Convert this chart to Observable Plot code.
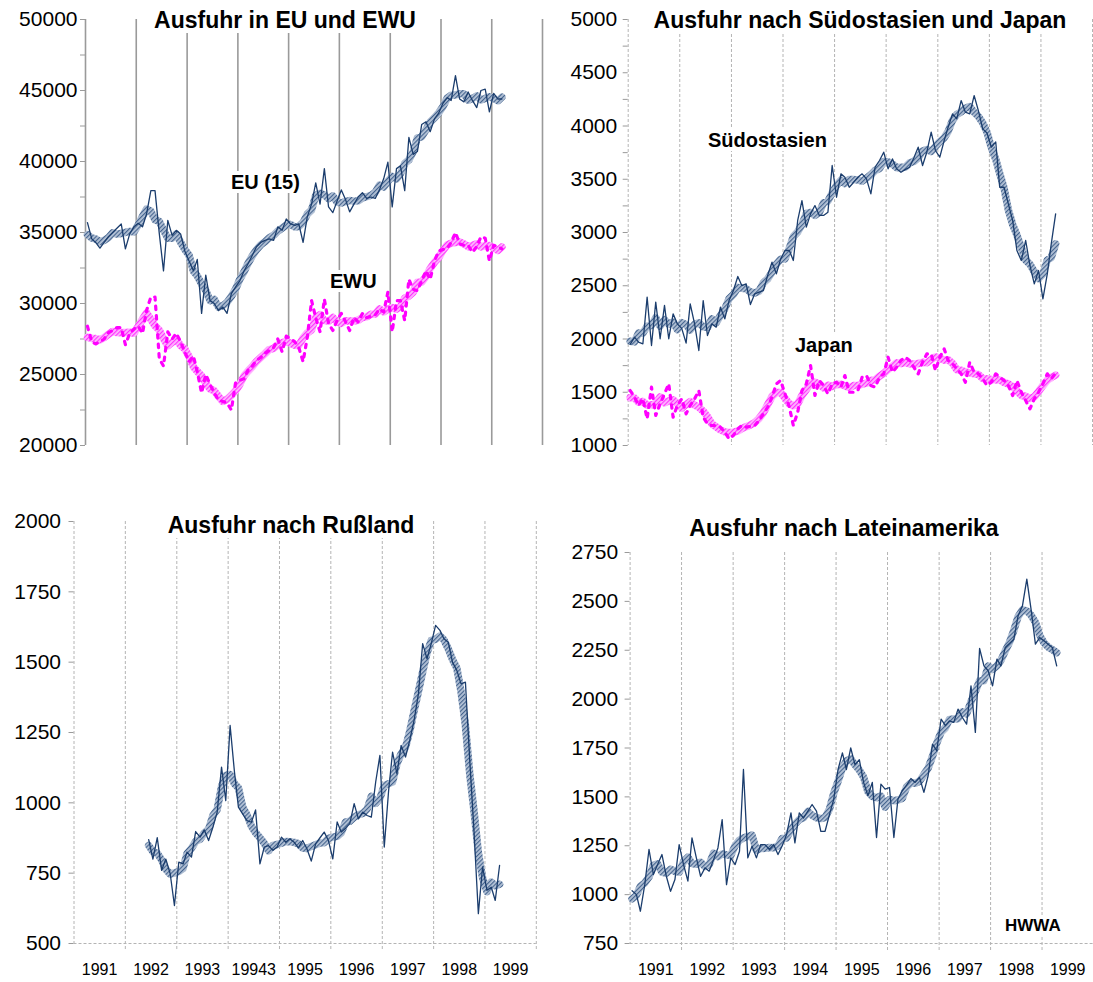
<!DOCTYPE html>
<html><head><meta charset="utf-8">
<script src="https://cdn.jsdelivr.net/npm/d3@7"></script>
<script src="https://cdn.jsdelivr.net/npm/@observablehq/plot@0.6"></script>
<style>
body{margin:0;background:#fff;font-family:Arial,"Liberation Sans",sans-serif;}
#root{position:relative;width:1093px;height:982px;overflow:hidden;background:#fff;}
.panel{position:absolute;}
.title{position:absolute;font-weight:bold;font-size:23px;background:#fff;white-space:nowrap;transform:translateX(-50%);line-height:1;padding:1px 3px;color:#000;}
.lab{position:absolute;font-weight:bold;font-size:20px;background:#fff;white-space:nowrap;line-height:1;padding:1px 2px;color:#000;}
</style></head>
<body>
<svg width="0" height="0" style="position:absolute">
<defs>
<pattern id="hatchBlue" patternUnits="userSpaceOnUse" width="3" height="3" patternTransform="rotate(45)">
<rect width="3" height="3" fill="#b6c4d8"/><line x1="0.6" y1="0" x2="0.6" y2="3" stroke="#3f5f8a" stroke-width="1.1"/>
</pattern>
<pattern id="hatchPink" patternUnits="userSpaceOnUse" width="3" height="3" patternTransform="rotate(45)">
<rect width="3" height="3" fill="#ffb6ff"/><line x1="0.6" y1="0" x2="0.6" y2="3" stroke="#ff2cff" stroke-width="1.1"/>
</pattern>
</defs></svg>
<div id="root"></div>
<script>
// ---------------- data (monthly, 1991-01 onwards) ----------------
const euValues = [35700,34550,34300,33900,34300,34700,35000,35300,35600,33850,34900,35400,35650,35400,36300,37950,37950,34900,32300,35850,34800,35150,34900,33700,33000,32300,33100,29300,32000,30200,30000,
29500,29750,29300,30700,31150,31600,32300,32800,33400,34000,34300,34450,34550,34450,35400,35150,35950,35600,35500,35600,34300,36100,37000,
38500,37000,39500,36800,36400,37200,38000,37300,36450,37000,37500,37800,37400,37500,37400,38000,38800,39950,36800,39500,39700,37950,41700,40500,40700,42600,42800,42100,43000,43400,44100,44500,44300,46050,44400,44200,44900,44300,43800,45000,45100,43500,44800,44400,44400];
const ewuValues = [28400,27300,27150,27300,27500,27950,28100,28300,28300,27100,27900,28200,28400,27900,29500,30450,30450,26100,25600,28000,27500,27900,27300,26600,25900,26300,25200,23700,25000,24300,23700,23200,23100,23000,22500,24400,24600,24700,25300,25600,26000,26200,26500,26700,26900,27500,26600,27700,27500,27300,26900,
25900,27600,30200,29000,28000,30300,28600,28100,28800,29300,28700,28100,29000,28700,29300,29000,29100,29200,29600,29400,30800,28000,30200,30200,28800,31700,31000,30900,31600,32300,31700,33000,33700,33800,33900,34300,35000,34200,34100,34100,33600,34000,34700,34600,33000,34100,34000,33850];
const seaValues = [1950,2017,1970,1955,2393,1939,2346,2002,2315,2002,2236,2142,2100,1961,2330,2142,1892,2361,2033,2142,2111,2299,2189,2361,2455,2587,2502,2518,2324,2424,2440,2455,2600,2721,2612,2750,2831,2831,2737,3113,3300,3050,3175,3253,3160,3160,3191,
3629,3331,3551,3519,3425,3470,3519,3551,3504,3363,3613,3676,3754,3598,3691,3598,3566,3590,3613,3700,3801,3629,3754,3942,3770,3707,3864,3989,4114,4067,4239,4130,4114,4286,4145,3973,3935,3801,3850,3425,3425,3269,3112,2830,2737,2925,2690,2518,2643,2377,2612,2893,3175];
const japanValues = [1516,1454,1376,1438,1250,1548,1282,1391,1485,1579,1266,1376,1438,1297,1376,1438,1516,1266,1203,1188,1188,1172,1125,1062,1094,1156,1188,1172,1180,1188,1234,1300,1360,1454,1579,1610,1485,1360,1188,1313,1516,1579,1751,1470,1610,1563,1485,
1579,1594,1548,1657,1500,1500,1516,1641,1657,1563,1548,1641,1673,1829,1688,1735,1800,1829,1798,1735,1673,1782,1860,1860,1704,1829,1907,1798,1767,1720,1673,1594,1782,1688,1673,1626,1563,1594,1673,1641,1610,1563,1469,1610,1500,1422,1344,1438,1500,1579,1673,1626,1680];
const russiaStart = "1992-06";
const russiaValues = [869,800,876,760,800,748,635,
789,783,825,807,898,878,904,866,914,967,1127,1008,
1275,1109,985,960,937,931,975,783,843,848,831,843,
878,860,872,860,840,866,837,793,854,875,896,866,
801,932,896,910,926,997,943,967,955,949,1074,1169,
843,1044,1180,1103,1204,1163,1222,1293,1388,1566,1512,1566,
1631,1613,1583,1571,1500,1471,1423,1429,1150,900,606,772,
689,700,653,778];
const latamValues = [1020,1000,915,1051,1231,1103,1154,1205,1094,1017,1077,1256,1154,1069,1290,1188,1094,1137,1120,1179,1239,1384,1051,1188,1154,1222,1640,1188,1248,1188,1256,1256,1231,1256,1205,1250,1307,1418,1265,1418,1392,1427,1461,1427,1324,1324,1409,1486,1640,1725,1640,1750,1665,
1690,1574,1506,1574,1292,1565,1540,1548,1292,1489,1531,1560,1594,1574,1599,1523,1608,1770,1736,1898,1864,1889,1881,1949,1906,1872,2068,1830,2259,2170,2145,2068,2205,2170,2264,2285,2307,2426,2477,2614,2460,2281,2315,2298,2280,2264,2170];

const seriesStart = "1991-01";
const years = [1991,1992,1993,1994,1995,1996,1997,1998,1999,2000];
const russiaTickLabels = ["1991","1992","1993","19943","1995","1996","1997","1998","1999"];
const latamTickLabels = ["1991","1992","1993","1994","1995","1996","1997","1998","1999"];
const euTicks = [20000,25000,30000,35000,40000,45000,50000];
const euMinor = [20000,22500,25000,27500,30000,32500,35000,37500,40000,42500,45000,47500,50000];
const seaTicks = [1000,1500,2000,2500,3000,3500,4000,4500,5000];
const seaMinor = d3.range(1000, 5001, 250);
const russiaTicks = [500,750,1000,1250,1500,1750,2000];
const latamTicks = [750,1000,1250,1500,1750,2000,2250,2500,2750];

// ---------------- helpers ----------------
const parseYM = s => { const [y, m] = s.split("-").map(Number); return new Date(Date.UTC(y, m - 1, 1)); };
const monthly = (start, values) => values.map((v, i) => ({date: d3.utcDay.offset(d3.utcMonth.offset(parseYM(start), i), 14), value: v}));
const yearStart = y => new Date(Date.UTC(y, 0, 1));
const midYear = y => new Date(Date.UTC(y, 6, 2));
const fmt = d3.format("d");
const FONT = "Arial, 'Liberation Sans', sans-serif";
const NAVY = "#1b3d6d";
const MAG = "#ff00ff";

function trend(data, pattern) {
  return Plot.lineY(data, Plot.windowY({k: 5, anchor: "middle", strict: false}, {x: "date", y: "value", stroke: pattern, strokeWidth: 7.5, strokeLinejoin: "round"}));
}
function rawBlue(data) {
  return Plot.lineY(data, {x: "date", y: "value", stroke: NAVY, strokeWidth: 1.3});
}
function rawMag(data) {
  return Plot.lineY(data, {x: "date", y: "value", stroke: MAG, strokeWidth: 3.2, strokeDasharray: "3.5,6"});
}

function makePanel(cfg) {
  const grid = cfg.solidGrid
    ? {stroke: "#9a9a9a", strokeWidth: 1.6}
    : {stroke: "#b4b4b4", strokeWidth: 1, strokeDasharray: "3,2"};
  const marks = [
    Plot.ruleX(years.slice(1).map(yearStart), {...grid, insetBottom: cfg.gridExtend || 0}),
    Plot.ruleX([yearStart(1991)], cfg.solidGrid ? {stroke: "#9a9a9a", strokeWidth: 1.6} : grid),
  ];
  if (cfg.baseline != null) marks.push(Plot.ruleY([cfg.baseline], {stroke: "#b4b4b4", strokeDasharray: "3,2"}));
  marks.push(Plot.axisY(cfg.minor, {tickSize: 5, text: null, stroke: "#9a9a9a", label: null}));
  marks.push(Plot.axisY(cfg.ticks, {tickSize: 0, tickPadding: cfg.labelPad, tickFormat: fmt, fontSize: 21, label: null}));
  if (cfg.xLabels) {
    const lab = new Map(years.slice(0, 9).map((y, i) => [y, cfg.xLabels[i]]));
    marks.push(Plot.axisX(years.slice(0, 9).map(midYear), {tickSize: 0, tickPadding: 20, fontSize: 16, label: null, tickFormat: d => lab.get(d.getUTCFullYear())}));
  }
  marks.push(...cfg.lines);
  const svg = Plot.plot({
    width: cfg.width, height: cfg.height,
    marginLeft: cfg.ml, marginRight: cfg.mr, marginTop: cfg.mt, marginBottom: cfg.mb,
    x: {type: "utc", domain: [yearStart(1991), yearStart(2000)], axis: null},
    y: {domain: cfg.yDomain},
    style: {fontFamily: FONT, background: "transparent", color: "#000", overflow: "visible"},
    marks
  });
  const div = document.createElement("div");
  div.className = "panel";
  div.style.left = cfg.left + "px";
  div.style.top = cfg.top + "px";
  div.appendChild(svg);
  root.appendChild(div);
}

const root = document.getElementById("root");

const eu = monthly(seriesStart, euValues);
const ewu = monthly(seriesStart, ewuValues);
const sea = monthly(seriesStart, seaValues);
const jp = monthly(seriesStart, japanValues);
const ru = monthly(russiaStart, russiaValues);
const la = monthly(seriesStart, latamValues);

makePanel({left: 0, top: 0, width: 546, height: 460, ml: 85, mr: 4, mt: 19, mb: 15,
  yDomain: [20000, 50000], ticks: euTicks, minor: euMinor, labelPad: 8, solidGrid: true,
  lines: [trend(ewu, "url(#hatchPink)"), rawMag(ewu), trend(eu, "url(#hatchBlue)"), rawBlue(eu)]});

makePanel({left: 546, top: 0, width: 547, height: 460, ml: 81.7, mr: 1, mt: 19, mb: 15,
  yDomain: [1000, 5000], ticks: seaTicks, minor: seaMinor, labelPad: 11,
  lines: [trend(jp, "url(#hatchPink)"), rawMag(jp), trend(sea, "url(#hatchBlue)"), rawBlue(sea)]});

makePanel({left: 0, top: 470, width: 546, height: 512, ml: 73.5, mr: 10.2, mt: 51, mb: 39,
  yDomain: [500, 2000], ticks: russiaTicks, minor: russiaTicks, labelPad: 13, baseline: 500, gridExtend: -7,
  xLabels: russiaTickLabels,
  lines: [trend(ru, "url(#hatchBlue)"), rawBlue(ru)]});

makePanel({left: 546, top: 470, width: 547, height: 512, ml: 83.6, mr: 0, mt: 82, mb: 39,
  yDomain: [750, 2750], ticks: latamTicks, minor: latamTicks, labelPad: 12, baseline: 750, gridExtend: -7,
  xLabels: latamTickLabels,
  lines: [trend(la, "url(#hatchBlue)"), rawBlue(la)]});

function addText(cls, text, left, top) {
  const d = document.createElement("div");
  d.className = cls; d.textContent = text;
  d.style.left = left + "px"; d.style.top = top + "px";
  root.appendChild(d);
}
addText("title", "Ausfuhr in EU und EWU", 285, 8);
addText("title", "Ausfuhr nach Südostasien und Japan", 860, 8);
addText("title", "Ausfuhr nach Rußland", 291, 513);
addText("title", "Ausfuhr nach Lateinamerika", 844, 516);
addText("lab", "EU (15)", 229, 171);
addText("lab", "EWU", 328, 270);
addText("lab", "Südostasien", 706, 129);
addText("lab", "Japan", 793, 334);
const h = document.createElement("div");
h.className = "lab"; h.textContent = "HWWA"; h.style.fontSize = "17px";
h.style.left = "1003px"; h.style.top = "916px";
root.appendChild(h);
</script>
</body></html>
